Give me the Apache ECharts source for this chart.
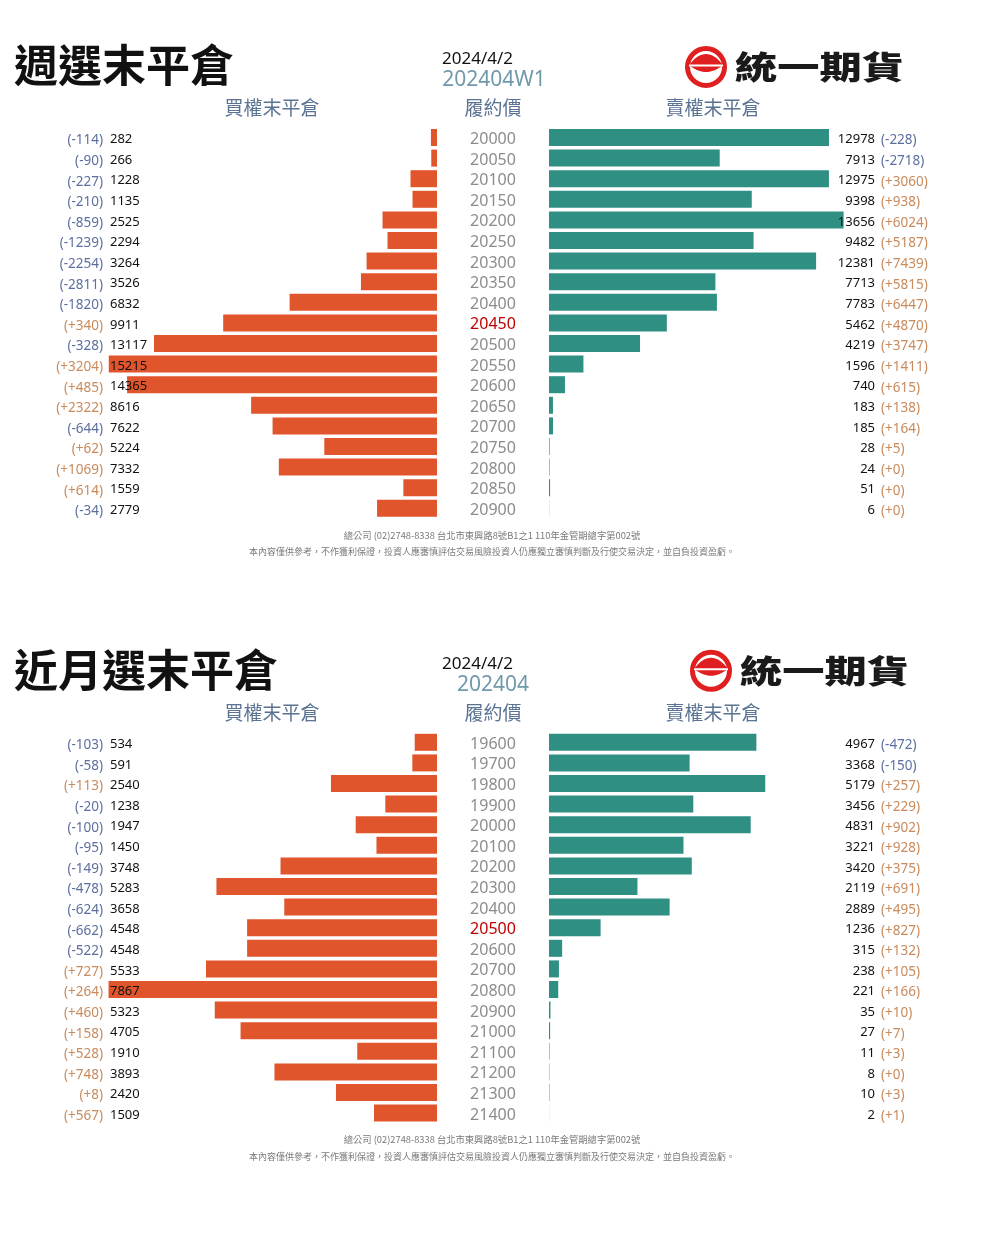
<!DOCTYPE html>
<html><head><meta charset="utf-8">
<script src="https://cdn.jsdelivr.net/npm/echarts@6/dist/echarts.min.js"></script>
<style>html,body{margin:0;padding:0;background:#fff}#c{width:982px;height:1247px}</style>
</head><body><div id="c"></div>
<script>
// ---- weekly (週選) ----
const weeklyStrikes = ['20000','20050','20100','20150','20200','20250','20300','20350','20400','20450','20500','20550','20600','20650','20700','20750','20800','20850','20900'];
const weeklyCallOI  = [282,266,1228,1135,2525,2294,3264,3526,6832,9911,13117,15215,14365,8616,7622,5224,7332,1559,2779];
const weeklyCallChg = [-114,-90,-227,-210,-859,-1239,-2254,-2811,-1820,340,-328,3204,485,2322,-644,62,1069,614,-34];
const weeklyPutOI   = [12978,7913,12975,9398,13656,9482,12381,7713,7783,5462,4219,1596,740,183,185,28,24,51,6];
const weeklyPutChg  = [-228,-2718,3060,938,6024,5187,7439,5815,6447,4870,3747,1411,615,138,164,5,0,0,0];
const weeklyAtmIndex = 9;
// ---- monthly (近月) ----
const monthlyStrikes = ['19600','19700','19800','19900','20000','20100','20200','20300','20400','20500','20600','20700','20800','20900','21000','21100','21200','21300','21400'];
const monthlyCallOI  = [534,591,2540,1238,1947,1450,3748,5283,3658,4548,4548,5533,7867,5323,4705,1910,3893,2420,1509];
const monthlyCallChg = [-103,-58,113,-20,-100,-95,-149,-478,-624,-662,-522,727,264,460,158,528,748,8,567];
const monthlyPutOI   = [4967,3368,5179,3456,4831,3221,3420,2119,2889,1236,315,238,221,35,27,11,8,10,2];
const monthlyPutChg  = [-472,-150,257,229,902,928,375,691,495,827,132,105,166,10,7,3,0,3,1];
const monthlyAtmIndex = 9;
// ---- texts ----
const titles = ['週選末平倉','近月選末平倉'];
const dates = ['2024/4/2','2024/4/2'];
const contracts = ['202404W1','202404'];
const headers = ['買權末平倉','履約價','賣權末平倉'];
const footer1 = '總公司 (02)2748-8338 台北市東興路8號B1之1 110年金管期總字第002號';
const footer2 = '本內容僅供參考，不作獲利保證，投資人應審慎評估交易風險投資人仍應獨立審慎判斷及行使交易決定，並自負投資盈虧。';
const logoText = '統一期貨';

const chart = echarts.init(document.getElementById('c'));
const LAT = "'Noto Sans', 'Open Sans', sans-serif";
const CJK = "'Noto Sans CJK TC', 'Noto Sans', sans-serif";
const rich = {
  n:{color:'#5d6fa0', fontSize:13.5, fontFamily:LAT, padding:[6,0,0,0]},
  p:{color:'#c98a5c', fontSize:13.5, fontFamily:LAT, padding:[6,0,0,0]},
  v:{color:'#111111', fontSize:13, fontFamily:LAT, padding:[4,0,0,0]},
  s:{color:'#8c8c8c', fontSize:16, fontFamily:LAT, padding:[4,0,0,0]},
  a:{color:'#c00000', fontSize:16, fontFamily:LAT, padding:[4,0,0,0]}
};
function fmtChg(v){ return v < 0 ? '{n|(' + v + ')}' : '{p|(+' + v + ')}'; }

const grids = [], xAxes = [], yAxes = [], series = [], graphics = [];

function quad(p0, c, p1, n){
  const pts = [];
  for (let i = 0; i <= n; i++) {
    const t = i / n, u = 1 - t;
    pts.push([u*u*p0[0] + 2*u*t*c[0] + t*t*p1[0], u*u*p0[1] + 2*u*t*c[1] + t*t*p1[1]]);
  }
  return pts;
}

function panel(dy, strikes, callOI, callChg, putOI, putChg, atm, maxV, k) {
  const gi = grids.length;
  const top = 127.2 + dy, h = 391.4;
  grids.push({left:108, top:top, width:329, height:h});
  grids.push({left:549, top:top, width:329, height:h});
  xAxes.push({gridIndex:gi, type:'value', min:0, max:maxV, inverse:true, show:false});
  xAxes.push({gridIndex:gi+1, type:'value', min:0, max:maxV, show:false});
  const base = {type:'category', data:strikes, inverse:true, axisLine:{show:false}, axisTick:{show:false}, splitLine:{show:false}, z:10};
  const yCall = yAxes.length;
  yAxes.push(Object.assign({}, base, {gridIndex:gi, position:'left',
    axisLabel:{interval:0, margin:5, formatter:(v,i)=>fmtChg(callChg[i]), rich:rich}}));
  yAxes.push(Object.assign({}, base, {gridIndex:gi, position:'left',
    axisLabel:{interval:0, inside:true, margin:2, align:'left', formatter:(v,i)=>'{v|' + callOI[i] + '}', rich:rich}}));
  yAxes.push(Object.assign({}, base, {gridIndex:gi, position:'right',
    axisLabel:{interval:0, margin:56, align:'center', formatter:(v,i)=> (i===atm ? '{a|' : '{s|') + v + '}', rich:rich}}));
  const yPut = yAxes.length;
  yAxes.push(Object.assign({}, base, {gridIndex:gi+1, position:'right',
    axisLabel:{interval:0, inside:true, margin:3, align:'right', formatter:(v,i)=>'{v|' + putOI[i] + '}', rich:rich}}));
  yAxes.push(Object.assign({}, base, {gridIndex:gi+1, position:'right',
    axisLabel:{interval:0, margin:3, align:'left', formatter:(v,i)=>fmtChg(putChg[i]), rich:rich}}));

  series.push({type:'bar', xAxisIndex:gi, yAxisIndex:yCall, data:callOI, barWidth:17, silent:true,
    itemStyle:{color:'#e1552c'}, z:2});
  series.push({type:'bar', xAxisIndex:gi+1, yAxisIndex:yPut, data:putOI, barWidth:17, silent:true,
    itemStyle:{color:'#2f8f83'}, z:2});

  // texts
  graphics.push({type:'text', x:14, y:65+dy, style:{text:titles[k], font:"bold 44px "+CJK, fill:'#111', verticalAlign:'middle'}});
  graphics.push({type:'text', x:442, y:59+dy, style:{text:dates[k], font:"17px "+LAT, fill:'#111', verticalAlign:'middle'}});
  graphics.push({type:'text', x: k===0 ? 494 : 493, y:80+dy, style:{text:contracts[k], font:"21px "+LAT, fill:'#7199ab', align:'center', verticalAlign:'middle'}});
  graphics.push({type:'text', x:272, y:108+dy, style:{text:headers[0], font:"19px "+CJK, fill:'#5b7393', align:'center', verticalAlign:'middle'}});
  graphics.push({type:'text', x:493, y:108+dy, style:{text:headers[1], font:"19px "+CJK, fill:'#5b7393', align:'center', verticalAlign:'middle'}});
  graphics.push({type:'text', x:713, y:108+dy, style:{text:headers[2], font:"19px "+CJK, fill:'#5b7393', align:'center', verticalAlign:'middle'}});
  // logo
  const lx = (k===0 ? 706 : 711), ly = 67 + dy - (k===0 ? 0 : 1);
  graphics.push({type:'circle', shape:{cx:lx, cy:ly, r:18.5}, style:{fill:'none', stroke:'#e02020', lineWidth:5}});
  const upper = quad([lx-17, ly-2], [lx, ly-24], [lx+17, ly-2], 16);
  const lower = quad([lx+17, ly-2], [lx, ly+12], [lx-17, ly-2], 16);
  graphics.push({type:'polygon', shape:{points: upper.concat(lower)}, style:{fill:'#e02020'}});
  graphics.push({type:'rect', shape:{x:lx-17, y:ly-2.5, width:34, height:2}, style:{fill:'#fff'}});
  graphics.push({type:'text', x:lx+29, y:ly, scaleX:1.32, style:{text:logoText, font:"900 32px "+CJK, fill:'#1a1a1a', verticalAlign:'middle'}});
  // footer
  graphics.push({type:'text', x:492, y:535+dy, style:{text:footer1, font:"9.3px "+CJK, fill:'#7a7a7a', align:'center', verticalAlign:'middle'}});
  graphics.push({type:'text', x:492, y:552+dy, style:{text:footer2, font:"9px "+CJK, fill:'#7a7a7a', align:'center', verticalAlign:'middle'}});
}

panel(0, weeklyStrikes, weeklyCallOI, weeklyCallChg, weeklyPutOI, weeklyPutChg, weeklyAtmIndex, 15250, 0);
panel(604.8, monthlyStrikes, monthlyCallOI, monthlyCallChg, monthlyPutOI, monthlyPutChg, monthlyAtmIndex, 7880, 1);

chart.setOption({
  animation:false,
  backgroundColor:'#ffffff',
  grid:grids, xAxis:xAxes, yAxis:yAxes, series:series,
  graphic:graphics
});
</script></body></html>
